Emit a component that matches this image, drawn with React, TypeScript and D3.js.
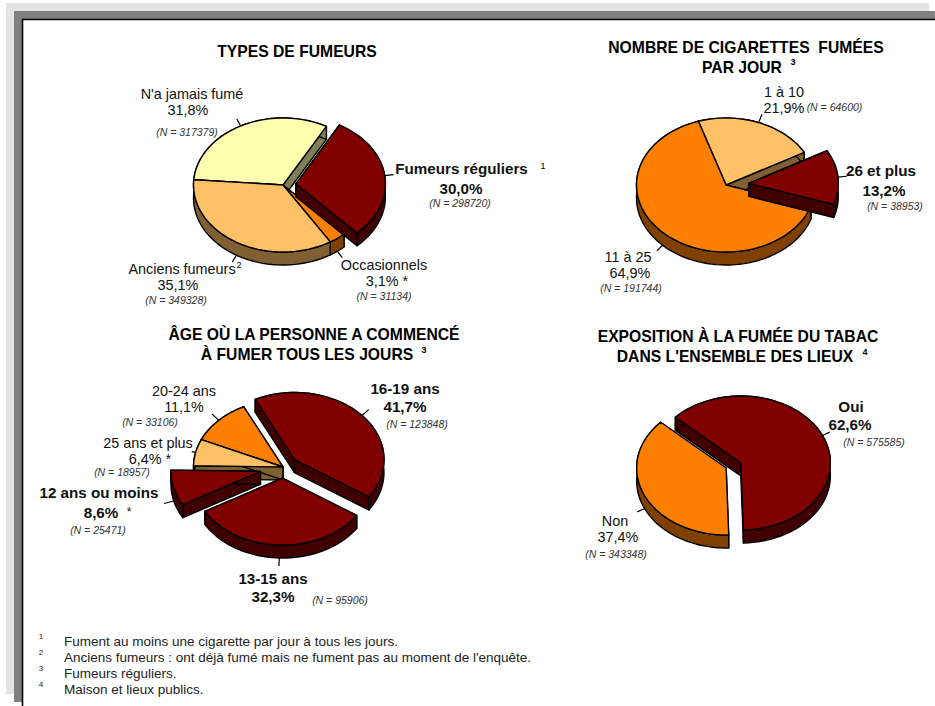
import React from 'react';
import * as d3 from 'd3';

// --- data ---
const typesLabels = ['Fumeurs réguliers', 'Occasionnels', 'Anciens fumeurs', "N'a jamais fumé"];
const typesValues = [30.0, 3.1, 35.1, 31.8];
const typesCounts = [298720, 31134, 349328, 317379];
const typesStars = [false, true, false, false];

const cigLabels = ['1 à 10', '26 et plus', '11 à 25'];
const cigValues = [21.9, 13.2, 64.9];
const cigCounts = [64600, 38953, 191744];
const cigStars = [false, false, false];

const ageLabels = ['16-19 ans', '13-15 ans', '12 ans ou moins', '25 ans et plus', '20-24 ans'];
const ageValues = [41.7, 32.3, 8.6, 6.4, 11.1];
const ageCounts = [123848, 95906, 25471, 18957, 33106];
const ageStars = [false, false, false, true, false];

const expoLabels = ['Oui', 'Non'];
const expoValues = [62.6, 37.4];
const expoCounts = [575585, 343348];
const expoStars = [false, false];

const footnotes = [
  'Fument au moins une cigarette par jour à tous les jours.',
  'Anciens fumeurs : ont déjà fumé mais ne fument pas au moment de l\'enquête.',
  'Fumeurs réguliers.',
  'Maison et lieux publics.',
];

// --- styles and layout ---
const FONT = '"Liberation Sans", Arial, sans-serif';
const DARK = '#800000';
const ORANGE = '#ff8000';
const PEACH = '#ffc066';
const PALE = '#ffffb0';
const RX = 89.5;
const RY = 67;
const DEPTH = 13;
const deg = (d: number) => (d * Math.PI) / 180;

const charts = [
  {
    labels: typesLabels, values: typesValues, counts: typesCounts, stars: typesStars,
    cx: 283, cy: 185, start: 29,
    colors: [DARK, ORANGE, PEACH, PALE],
    explode: [0.145, 0, 0, 0],
    order: [3, 1, 2, 0],
    strong: [0],
    leader: [9, 8, 8, 8],
    title: [['TYPES DE FUMEURS', 297, 57]],
    textPos: [
      [[461.5, 174], [461, 194], [460, 207]],
      [[384, 270], [387, 286], [384, 300]],
      [[182, 274], [178, 290], [176, 304]],
      [[192, 99], [188, 115], [187, 136]],
    ],
    sups: [['1', 543, 169], ['2', 239, 268]],
  },
  {
    labels: cigLabels, values: cigValues, counts: cigCounts, stars: cigStars,
    cx: 726, cy: 185, start: -18,
    colors: [PEACH, DARK, ORANGE],
    explode: [0, 0.256, 0],
    order: [0, 2, 1],
    strong: [1],
    leader: [9, 9, 8],
    title: [['NOMBRE DE CIGARETTES  FUMÉES', 746, 53], ['PAR JOUR', 742, 73]],
    textPos: [
      [[784, 97], [784, 113], [834.5, 111]],
      [[881, 176], [884, 196], [895, 210]],
      [[628, 262], [630, 278], [631, 292]],
    ],
    sups: [['3', 793, 65]],
  },
  {
    labels: ageLabels, values: ageValues, counts: ageCounts, stars: ageStars,
    cx: 283, cy: 467, start: -26,
    colors: [DARK, DARK, DARK, PEACH, ORANGE],
    explode: [0.17, 0.165, 0.26, 0, 0],
    order: [4, 3, 0, 1, 2],
    strong: [0, 1, 2],
    leader: [9, 8, 10, 4, 9],
    title: [['ÂGE OÙ LA PERSONNE A COMMENCÉ', 314, 340], ['À FUMER TOUS LES JOURS', 307, 360]],
    textPos: [
      [[405, 394], [405, 412], [417, 428]],
      [[273, 584], [273, 602], [340, 604]],
      [[99, 498], [101, 518], [98, 534]],
      [[148, 448], [150, 464], [122, 476]],
      [[184, 396], [184, 412], [150, 426]],
    ],
    sups: [['3', 424, 353]],
  },
  {
    labels: expoLabels, values: expoValues, counts: expoCounts, stars: expoStars,
    cx: 733.5, cy: 465.5, start: -47,
    colors: [DARK, ORANGE],
    explode: [0.09, 0.09],
    order: [0, 1],
    strong: [0],
    leader: [8, 8],
    title: [["EXPOSITION À LA FUMÉE DU TABAC", 738, 342], ["DANS L'ENSEMBLE DES LIEUX", 735, 362]],
    textPos: [
      [[851, 412], [850, 430], [874, 446]],
      [[615, 526], [618, 542], [616, 558]],
    ],
    sups: [['4', 865, 355]],
  },
];

const pct = (v: number) => d3.format('.1f')(v).replace('.', ',') + '%';
const wallColor = (c: string) => d3.interpolateRgb(c, '#000')(0.5);
const closedLine = d3.line().curve(d3.curveLinearClosed);

function Pie3D({ chart }: { chart: (typeof charts)[number] }) {
  const { values, colors, explode, order, cx, cy, start, leader } = chart;
  const arcs = d3
    .pie<number>()
    .sort(null)
    .value((d) => d)
    .startAngle(deg(start))
    .endAngle(deg(start) + 2 * Math.PI)(values);

  const x = d3.scaleLinear().domain([-1, 1]).range([-RX, RX]);
  const y = d3.scaleLinear().domain([-1, 1]).range([RY, -RY]);

  const slices = arcs.map((a, i) => {
    const mid = (a.startAngle + a.endAngle) / 2;
    const ox = cx + x(explode[i] * Math.sin(mid));
    const oy = cy + y(explode[i] * Math.cos(mid));
    const at = (t: number): [number, number] => [ox + x(Math.sin(t)), oy + y(Math.cos(t))];
    const steps = d3.range(a.startAngle, a.endAngle, deg(3)).concat(a.endAngle);
    const rim = steps.map(at);
    const down = (p: [number, number]): [number, number] => [p[0], p[1] + DEPTH];
    const apex: [number, number] = [ox, oy];
    const front = Math.cos(mid) < 0;
    const p0 = at(mid);
    const base: [number, number] = front ? down(p0) : p0;
    const dirX = Math.sin(mid);
    const dirY = -Math.cos(mid);
    return {
      i,
      top: closedLine([apex, ...rim]) as string,
      outer: closedLine([...rim, ...rim.map(down).reverse()]) as string,
      wallA: closedLine([apex, rim[0], down(rim[0]), down(apex)]) as string,
      wallB: closedLine([apex, rim[rim.length - 1], down(rim[rim.length - 1]), down(apex)]) as string,
      lead: [base, [base[0] + dirX * leader[i], base[1] + dirY * leader[i]]] as [number, number][],
    };
  });

  const stroke = { stroke: '#000', strokeWidth: 1.4, strokeLinejoin: 'round' as const };

  return (
    <g>
      {slices.map((s) => (
        <path key={s.i} d={d3.line()(s.lead) as string} stroke="#000" strokeWidth={1.2} fill="none" />
      ))}
      {order.map((i) => {
        const s = slices[i];
        const wall = wallColor(colors[i]);
        return (
          <g key={i}>
            <path d={s.wallA} fill={wall} {...stroke} />
            <path d={s.wallB} fill={wall} {...stroke} />
            <path d={s.outer} fill={wall} {...stroke} />
            <path d={s.top} fill={colors[i]} {...stroke} />
          </g>
        );
      })}
    </g>
  );
}

function Labels({ chart }: { chart: (typeof charts)[number] }) {
  return (
    <g fontFamily={FONT} textAnchor="middle">
      {chart.title.map(([t, tx, ty]) => (
        <text key={t as string} x={tx as number} y={ty as number} fontSize={15.7} fontWeight="bold" style={{ whiteSpace: 'pre' }}>
          {t}
        </text>
      ))}
      {chart.sups.map(([t, sx, sy]) => (
        <text key={`${t}${sx}`} x={sx as number} y={sy as number} fontSize={9} fontWeight={t !== '1' && t !== '2' ? 'bold' : 'normal'}>
          {t}
        </text>
      ))}
      {chart.labels.map((label, i) => {
        const [nameP, pctP, nP] = chart.textPos[i];
        const strong = chart.strong.includes(i);
        const size = strong ? 15.2 : 14.4;
        const weight = strong ? 'bold' : 'normal';
        return (
          <g key={label} fill="#111">
            <text x={nameP[0]} y={nameP[1]} fontSize={size} fontWeight={weight}>{label}</text>
            <text x={pctP[0]} y={pctP[1]} fontSize={size} fontWeight={weight}>
              {pct(chart.values[i]) + (chart.stars[i] ? ' *' : '')}
            </text>
            <text x={nP[0]} y={nP[1]} fontSize={10.5} fontStyle="italic" fill="#333">
              {`(N = ${chart.counts[i]})`}
            </text>
          </g>
        );
      })}
    </g>
  );
}

export default function App() {
  return (
    <svg width={935} height={706} style={{ position: 'absolute', left: 0, top: 0 }}>
      <rect width={935} height={706} fill="#fff" />
      {/* page shadow and frame */}
      <rect x={6} y={3} width={923} height={691} fill="#e4e4e4" />
      <rect x={14} y={11} width={921} height={691} fill="#808080" />
      <rect x={22} y={19} width={913} height={687} fill="#fff" />
      <path d="M22.5 706V19.5H935" fill="none" stroke="#000" strokeWidth={1.6} />

      {charts.map((c, i) => (
        <g key={i}>
          <Pie3D chart={c} />
          <Labels chart={c} />
        </g>
      ))}
      <text x={129} y={516} fontFamily={FONT} fontSize={12} textAnchor="middle" fill="#111">*</text>

      <g fontFamily={FONT} fill="#222">
        {footnotes.map((t, i) => (
          <g key={i}>
            <text x={41} y={639 + i * 16} fontSize={8} textAnchor="middle">{i + 1}</text>
            <text x={64} y={646 + i * 16} fontSize={13.5}>{t}</text>
          </g>
        ))}
      </g>
    </svg>
  );
}
